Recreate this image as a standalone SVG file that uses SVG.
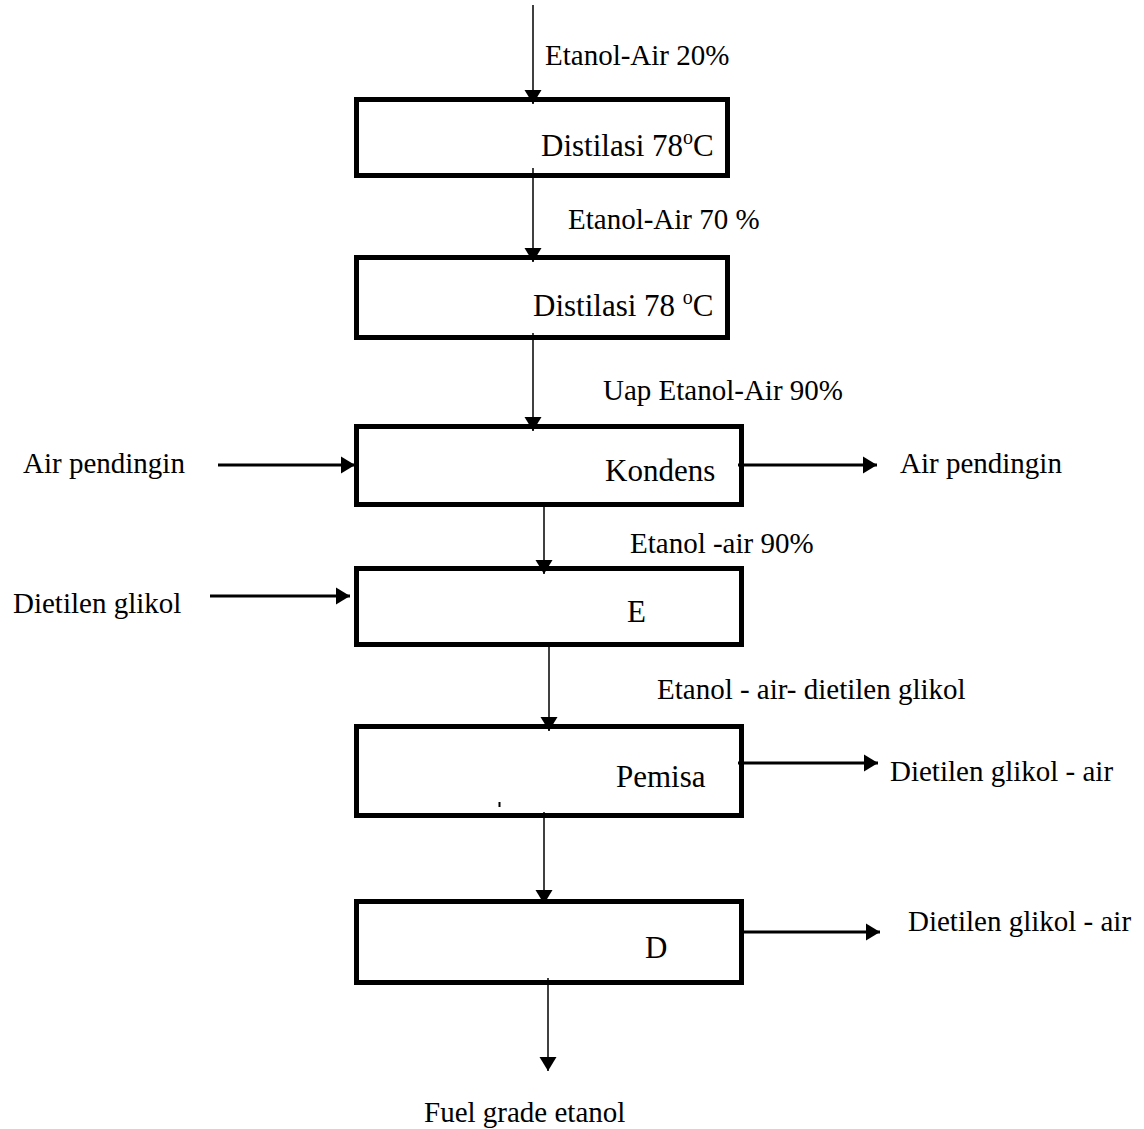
<svg xmlns="http://www.w3.org/2000/svg" width="1144" height="1129" viewBox="0 0 1144 1129">
<style>
.box{fill:#fff;stroke:#000;stroke-width:5}
.v{stroke:#000;stroke-width:1.5;fill:none}
.h{stroke:#000;stroke-width:3;fill:none}
.lbl{font-family:"Liberation Serif","Times New Roman",serif;font-size:29px;fill:#000}
.nl{font-family:"Liberation Serif","Times New Roman",serif;font-size:31px;fill:#000}
</style>
<defs>
<marker id="ah" markerUnits="userSpaceOnUse" markerWidth="14" markerHeight="17" refX="14" refY="8.5" orient="auto" overflow="visible">
<path d="M0,0 L14,8.5 L0,17 Z" fill="#000"/>
</marker>
</defs>
<rect width="1144" height="1129" fill="#fff"/>

<g id="n1"><rect class="box" x="356.5" y="99.5" width="371" height="76"/>
<text class="nl" x="541" y="156">Distilasi 78<tspan font-size="20" dy="-12">o</tspan><tspan dy="12">C</tspan></text></g>
<g id="n2"><rect class="box" x="356.5" y="257.5" width="371" height="80"/>
<text class="nl" x="533" y="316">Distilasi 78 <tspan font-size="20" dy="-12">o</tspan><tspan dy="12">C</tspan></text></g>
<g id="n3"><rect class="box" x="356.5" y="426.5" width="385" height="78"/>
<text class="nl" x="605" y="481">Kondens</text></g>
<g id="n4"><rect class="box" x="356.5" y="568.5" width="385" height="76"/>
<text class="nl" x="627" y="622">E</text></g>
<g id="n5"><rect class="box" x="356.5" y="726.5" width="385" height="89"/>
<text class="nl" x="616" y="787">Pemisa</text>
<rect x="498.5" y="802" width="2" height="5" fill="#000"/></g>
<g id="n6"><rect class="box" x="356.5" y="901.5" width="385" height="81"/>
<text class="nl" x="645" y="958">D</text></g>

<g id="connectors">
<line class="v" x1="533" y1="5" x2="533" y2="104" marker-end="url(#ah)"/>
<line class="v" x1="533" y1="168" x2="533" y2="262" marker-end="url(#ah)"/>
<line class="v" x1="533" y1="333" x2="533" y2="431" marker-end="url(#ah)"/>
<line class="v" x1="544" y1="502" x2="544" y2="574" marker-end="url(#ah)"/>
<line class="v" x1="549" y1="645" x2="549" y2="731" marker-end="url(#ah)"/>
<line class="v" x1="544" y1="812" x2="544" y2="904" marker-end="url(#ah)"/>
<line class="v" x1="548" y1="978" x2="548" y2="1071" marker-end="url(#ah)"/>
<line class="h" x1="218" y1="465" x2="355" y2="465" marker-end="url(#ah)"/>
<line class="h" x1="738" y1="465" x2="877" y2="465" marker-end="url(#ah)"/>
<line class="h" x1="210" y1="596" x2="350" y2="596" marker-end="url(#ah)"/>
<line class="h" x1="738" y1="763" x2="878" y2="763" marker-end="url(#ah)"/>
<line class="h" x1="740" y1="932" x2="880" y2="932" marker-end="url(#ah)"/>
</g>

<g id="labels">
<text class="lbl" x="545" y="65">Etanol-Air 20%</text>
<text class="lbl" x="568" y="229">Etanol-Air 70 %</text>
<text class="lbl" x="603" y="400">Uap Etanol-Air 90%</text>
<text class="lbl" x="23" y="473">Air pendingin</text>
<text class="lbl" x="900" y="473">Air pendingin</text>
<text class="lbl" x="630" y="553">Etanol -air 90%</text>
<text class="lbl" x="13" y="613">Dietilen glikol</text>
<text class="lbl" x="657" y="699">Etanol - air- dietilen glikol</text>
<text class="lbl" x="890" y="781">Dietilen glikol - air</text>
<text class="lbl" x="908" y="931">Dietilen glikol - air</text>
<text class="lbl" x="424" y="1122">Fuel grade etanol</text>
</g>
</svg>
